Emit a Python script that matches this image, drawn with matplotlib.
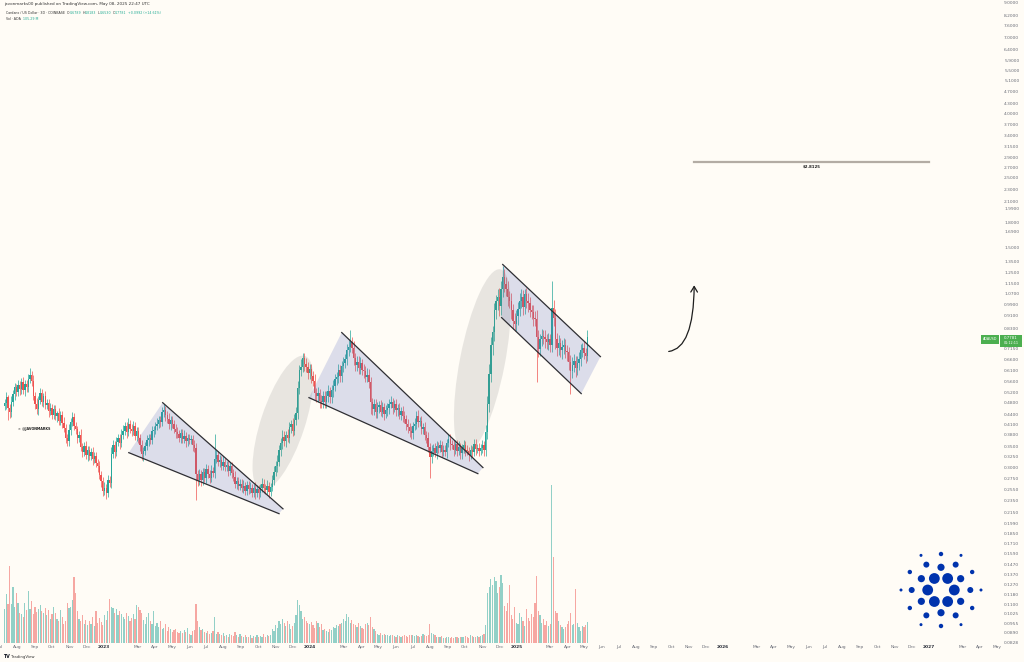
import numpy as np
import pandas as pd
import matplotlib
matplotlib.use("Agg")
import matplotlib.pyplot as plt
import matplotlib.dates as mdates
from matplotlib.patches import Polygon, Ellipse, Circle, FancyArrowPatch, Rectangle
from matplotlib.transforms import IdentityTransform
from matplotlib.ticker import NullLocator

# ---- data (ADA/USD, 3D candles) ----
start = "2022-07-09"
first_open = 0.470
closes = [
    0.480, 0.500, 0.462, 0.448, 0.485, 0.512, 0.540, 0.521, 0.548, 0.530,
    0.558, 0.528, 0.550, 0.538, 0.572, 0.590, 0.565, 0.505, 0.478, 0.458,
    0.492, 0.515, 0.484, 0.505, 0.472, 0.480, 0.452, 0.462, 0.440, 0.458,
    0.436, 0.445, 0.420, 0.438, 0.415, 0.400, 0.372, 0.362, 0.395, 0.418,
    0.432, 0.405, 0.398, 0.372, 0.380, 0.348, 0.336, 0.350, 0.328, 0.340,
    0.326, 0.334, 0.318, 0.326, 0.310, 0.302, 0.283, 0.270, 0.252, 0.258,
    0.248, 0.272, 0.268, 0.330, 0.352, 0.335, 0.360, 0.372, 0.358, 0.380,
    0.392, 0.405, 0.388, 0.412, 0.398, 0.392, 0.405, 0.378, 0.390, 0.370,
    0.352, 0.330, 0.338, 0.350, 0.365, 0.372, 0.366, 0.390, 0.394, 0.405,
    0.412, 0.425, 0.418, 0.448, 0.455, 0.438, 0.428, 0.410, 0.425, 0.412,
    0.398, 0.388, 0.382, 0.372, 0.385, 0.368, 0.378, 0.362, 0.372, 0.366,
    0.368, 0.352, 0.345, 0.285, 0.272, 0.285, 0.272, 0.290, 0.278, 0.295,
    0.286, 0.278, 0.292, 0.288, 0.318, 0.328, 0.312, 0.315, 0.302, 0.312,
    0.300, 0.304, 0.292, 0.302, 0.288, 0.280, 0.266, 0.270, 0.262, 0.266,
    0.258, 0.262, 0.252, 0.264, 0.256, 0.258, 0.249, 0.258, 0.248, 0.256,
    0.248, 0.258, 0.266, 0.258, 0.254, 0.262, 0.250, 0.260, 0.272, 0.290,
    0.302, 0.312, 0.340, 0.358, 0.375, 0.362, 0.380, 0.372, 0.402, 0.412,
    0.392, 0.425, 0.445, 0.535, 0.610, 0.625, 0.665, 0.640, 0.625, 0.598,
    0.615, 0.585, 0.565, 0.515, 0.505, 0.518, 0.488, 0.482, 0.505, 0.482,
    0.505, 0.525, 0.500, 0.528, 0.545, 0.570, 0.580, 0.610, 0.585, 0.628,
    0.645, 0.660, 0.705, 0.725, 0.750, 0.720, 0.665, 0.632, 0.650, 0.618,
    0.645, 0.612, 0.605, 0.582, 0.590, 0.558, 0.482, 0.458, 0.475, 0.448,
    0.465, 0.472, 0.450, 0.465, 0.442, 0.455, 0.462, 0.478, 0.485, 0.462,
    0.475, 0.455, 0.462, 0.440, 0.452, 0.435, 0.428, 0.410, 0.402, 0.390,
    0.385, 0.405, 0.412, 0.435, 0.418, 0.420, 0.398, 0.402, 0.380, 0.372,
    0.348, 0.322, 0.338, 0.345, 0.332, 0.350, 0.346, 0.352, 0.336, 0.340,
    0.335, 0.358, 0.368, 0.355, 0.352, 0.340, 0.356, 0.338, 0.348, 0.332,
    0.344, 0.352, 0.340, 0.338, 0.328, 0.340, 0.336, 0.355, 0.342, 0.345,
    0.338, 0.346, 0.352, 0.340, 0.388, 0.478, 0.595, 0.735, 0.805, 0.945,
    1.010, 1.040, 0.975, 1.110, 1.205, 1.150, 1.110, 1.040, 1.010, 0.945,
    0.875, 0.858, 0.905, 0.955, 1.010, 1.045, 0.970, 1.065, 1.010, 0.995,
    0.945, 0.935, 0.895, 0.885, 0.780, 0.715, 0.765, 0.785, 0.778, 0.765,
    0.752, 0.765, 0.735, 0.960, 0.895, 0.765, 0.718, 0.745, 0.705, 0.725,
    0.735, 0.700, 0.695, 0.648, 0.605, 0.635, 0.652, 0.618, 0.645, 0.662,
    0.705, 0.718, 0.692, 0.6789, 0.7781,
]
# upper / lower wick beyond the body, in percent
wick_up = [
    3, 4, 2, 3, 4, 3, 3, 2, 4, 3,  3, 4, 3, 3, 4, 5, 3, 4, 3, 4,
    3, 4, 3, 2, 4, 3, 3, 4, 3, 3,  3, 2, 4, 3, 3, 4, 3, 3, 4, 3,
    4, 3, 3, 2, 3, 4, 3, 3, 4, 3,  3, 3, 4, 3, 3, 3, 4, 3, 3, 4,
    3, 4, 3, 5, 4, 3, 4, 3, 3, 4,  4, 3, 3, 4, 3, 3, 4, 3, 3, 3,
    3, 4, 3, 3, 4, 3, 3, 4, 3, 3,  4, 3, 3, 4, 5, 3, 3, 4, 3, 3,
    3, 3, 4, 3, 3, 3, 4, 3, 3, 3,  3, 3, 4, 4, 3, 4, 3, 3, 3, 4,
    3, 3, 4, 3, 20, 4, 3, 4, 3, 4,  3, 3, 4, 3, 3, 3, 4, 3, 3, 3,
    3, 4, 3, 3, 3, 4, 3, 3, 4, 3,  3, 3, 4, 3, 3, 4, 3, 3, 4, 4,
    4, 5, 4, 4, 5, 4, 3, 4, 4, 3,  4, 4, 5, 5, 4, 6, 4, 4, 4, 4,
    4, 4, 4, 5, 4, 4, 3, 4, 4, 4,  4, 4, 3, 4, 4, 4, 4, 5, 4, 4,
    4, 4, 5, 5, 9, 4, 5, 4, 4, 4,  4, 3, 4, 4, 5, 4, 4, 3, 4, 4,
    4, 3, 4, 4, 3, 4, 4, 3, 4, 3,  3, 4, 3, 4, 3, 4, 4, 3, 4, 3,
    4, 3, 4, 4, 5, 3, 4, 3, 4, 3,  4, 3, 4, 3, 4, 4, 3, 4, 3, 4,
    4, 3, 4, 4, 3, 4, 3, 3, 4, 3,  3, 4, 3, 4, 3, 4, 3, 4, 4, 3,
    4, 3, 4, 3, 5, 6, 7, 6, 5, 6,  5, 6, 7, 6, 9, 6, 5, 6, 5, 6,
    5, 6, 5, 5, 6, 6, 5, 4, 5, 6,  5, 4, 5, 5, 7, 5, 4, 5, 4, 5,
    4, 5, 4, 22, 6, 7, 5, 6, 4, 5,  5, 4, 5, 4, 5, 6, 5, 4, 5, 5,
    5, 4, 5, 4, 5.2,
]
wick_dn = [
    3, 4, 8, 4, 3, 3, 4, 3, 3, 4,  3, 3, 4, 3, 3, 3, 4, 3, 4, 3,
    4, 3, 3, 4, 3, 3, 4, 3, 3, 3,  3, 4, 3, 3, 4, 3, 4, 3, 3, 4,
    3, 3, 4, 4, 3, 3, 4, 3, 3, 4,  3, 3, 4, 3, 3, 4, 3, 4, 4, 3,
    4, 3, 3, 4, 3, 4, 3, 3, 4, 3,  3, 3, 4, 3, 3, 4, 3, 3, 4, 3,
    4, 4, 5, 3, 3, 4, 3, 3, 4, 3,  3, 3, 4, 3, 3, 4, 3, 3, 4, 3,
    3, 4, 3, 3, 4, 3, 3, 4, 3, 3,  3, 4, 3, 17, 4, 3, 4, 3, 3, 4,
    3, 4, 3, 3, 4, 3, 3, 4, 3, 3,  3, 3, 4, 3, 4, 3, 3, 4, 3, 3,
    3, 4, 3, 3, 4, 3, 3, 3, 4, 3,  4, 3, 3, 4, 3, 3, 4, 3, 3, 3,
    3, 4, 3, 4, 4, 3, 4, 3, 4, 4,  4, 3, 4, 4, 4, 4, 4, 5, 4, 4,
    4, 5, 4, 5, 4, 4, 5, 4, 4, 4,  4, 4, 4, 4, 5, 4, 4, 4, 4, 4,
    4, 4, 4, 4, 4, 4, 5, 4, 4, 4,  4, 4, 5, 4, 4, 4, 8, 4, 4, 4,
    4, 4, 3, 4, 4, 3, 4, 4, 3, 4,  3, 4, 4, 3, 4, 4, 3, 4, 4, 4,
    4, 4, 3, 4, 4, 3, 4, 4, 4, 4,  4, 14, 4, 4, 3, 4, 4, 3, 4, 3,
    3, 4, 3, 4, 3, 4, 3, 4, 3, 4,  4, 3, 4, 3, 4, 3, 4, 3, 4, 3,
    4, 3, 4, 4, 4, 5, 6, 6, 7, 6,  6, 6, 7, 6, 6, 6, 5, 6, 5, 6,
    6, 5, 5, 6, 5, 5, 6, 5, 5, 6,  5, 5, 6, 5, 28, 6, 5, 5, 5, 6,
    5, 6, 5, 5, 6, 7, 6, 5, 5, 6,  5, 5, 6, 6, 15, 5, 5, 6, 5, 5,
    5, 5, 4, 5, 3.8,
]
# volume, millions of ADA
volume = [
    170, 245, 195, 385, 195, 280, 180, 250, 200, 150,
    145, 130, 200, 165, 260, 170, 210, 145, 180, 155,
    170, 190, 160, 150, 175, 140, 165, 120, 145, 180,
    150, 120, 110, 165, 130, 95, 110, 200, 175, 180,
    215, 330, 250, 160, 120, 110, 140, 95, 115, 90,
    110, 95, 130, 85, 160, 100, 125, 105, 90, 140,
    115, 160, 220, 180, 175, 150, 170, 140, 160, 145,
    130, 120, 150, 135, 110, 125, 145, 120, 190, 180,
    165, 150, 115, 95, 130, 150, 110, 95, 160, 85,
    100, 80, 110, 70, 75, 95, 60, 80, 70, 55,
    65, 70, 55, 50, 60, 48, 65, 55, 75, 45,
    40, 60, 65, 195, 110, 80, 65, 70, 55, 50,
    60, 45, 50, 60, 130, 45, 55, 45, 40, 50,
    35, 40, 30, 45, 40, 35, 55, 40, 30, 45,
    35, 28, 40, 32, 30, 38, 26, 34, 30, 40,
    30, 35, 28, 45, 30, 40, 34, 38, 70, 60,
    90, 75, 110, 95, 120, 100, 85, 110, 95, 70,
    85, 100, 140, 215, 190, 160, 120, 130, 110, 100,
    95, 105, 90, 75, 110, 100, 80, 95, 65, 70,
    60, 55, 70, 65, 80, 75, 90, 85, 95, 100,
    120, 110, 145, 130, 100, 115, 95, 90, 80, 100,
    85, 75, 70, 95, 100, 90, 130, 80, 70, 60,
    45, 40, 50, 38, 45, 40, 42, 35, 40, 38,
    35, 32, 40, 34, 30, 36, 38, 33, 30, 40,
    42, 38, 35, 40, 36, 30, 34, 45, 38, 35,
    40, 95, 50, 45, 40, 32, 28, 30, 34, 26,
    25, 30, 28, 24, 30, 26, 32, 28, 25, 30,
    32, 28, 35, 30, 26, 38, 34, 30, 28, 36,
    30, 34, 38, 45, 90, 250, 280, 320, 290, 330,
    310, 250, 280, 340, 300, 185, 160, 200, 290, 140,
    120, 180, 100, 95, 150, 130, 110, 85, 170, 125,
    110, 145, 130, 200, 335, 160, 140, 100, 120, 90,
    110, 85, 95, 790, 430, 160, 150, 110, 90, 80,
    70, 80, 95, 110, 150, 90, 95, 270, 100, 80,
    60, 85, 80, 90, 105.29,
]
price_ticks = [9.0, 8.2, 7.6, 7.0, 6.4, 5.9, 5.5, 5.1, 4.7, 4.3, 4.0, 3.7, 3.4,
               3.15, 2.9, 2.7, 2.5, 2.3, 2.1, 1.99, 1.8, 1.69, 1.5, 1.35, 1.25,
               1.15, 1.07, 0.99, 0.91, 0.83, 0.715, 0.66, 0.61, 0.56, 0.52, 0.48,
               0.44, 0.41, 0.38, 0.35, 0.325, 0.30, 0.275, 0.255, 0.235, 0.215,
               0.199, 0.185, 0.171, 0.159, 0.147, 0.137, 0.127, 0.118, 0.110,
               0.1025, 0.0955, 0.0890, 0.0828]
target_price = 2.8125

# drawings: (date, price) anchors
wedge_2023 = dict(upper=[("2023-04-15", 0.481), ("2023-11-14", 0.221)],
                  lower=[("2023-02-14", 0.3335), ("2023-11-07", 0.2133)])
wedge_2024 = dict(upper=[("2024-02-26", 0.804), ("2024-11-02", 0.299)],
                  lower=[("2023-12-30", 0.499), ("2024-10-24", 0.286)])
channel_2025 = dict(upper=[("2024-12-07", 1.324), ("2025-05-29", 0.674)],
                    lower=[("2024-12-05", 0.897), ("2025-04-25", 0.514)])

# ---- style ----
W, H = 1024, 662
BG = "#fffcf6"
UP, DOWN = "#26a69a", "#ef5350"
TXT = "#6b6e78"
plt.rcParams["font.family"] = ["DejaVu Sans"]


def d(s):
    return mdates.date2num(np.datetime64(s))


n = min(len(closes), len(wick_up), len(wick_dn), len(volume))
c = np.array(closes[:n])
o = np.r_[first_open, c[:-1]]
hi = np.maximum(o, c) * (1 + np.array(wick_up[:n]) / 100)
lo = np.minimum(o, c) * (1 - np.array(wick_dn[:n]) / 100)
vol = np.array(volume[:n])
x = mdates.date2num(pd.date_range(start, periods=n, freq="3D").to_pydatetime())
col = np.where(c >= o, UP, DOWN)

fig = plt.figure(figsize=(W / 100, H / 100), dpi=100)
fig.patch.set_facecolor(BG)
rect = [0, 19 / H, 1000 / W, 643 / H]
axv = fig.add_axes(rect)
ax = fig.add_axes(rect, sharex=axv)
axv.set_facecolor(BG)
ax.patch.set_visible(False)

# volume
axv.bar(x, vol, width=2.1, color=col, alpha=0.5, linewidth=0)
axv.set_ylim(0, vol.max() * 643 / 158)
axv.axis("off")

# candles
ax.set_yscale("log")
ax.set_xlim(d("2023-01-01") - 178.2, d("2023-01-01") + 1586.4)
ax.set_ylim(0.0827, 9.19)
ax.vlines(x, lo, hi, colors=col, lw=0.5, zorder=2)
ax.bar(x, np.abs(c - o), bottom=np.minimum(o, c), width=2.4, color=col,
       linewidth=0, zorder=3)

# wedges / channel
for shape in (wedge_2023, wedge_2024, channel_2025):
    (ua, ub), (la, lb) = shape["upper"], shape["lower"]
    poly = [(d(la[0]), la[1]), (d(ua[0]), ua[1]), (d(ub[0]), ub[1]), (d(lb[0]), lb[1])]
    ax.add_patch(Polygon(poly, closed=True, facecolor="#5c6bc0", alpha=0.21,
                         edgecolor="none", zorder=5))
    for a, b in (shape["upper"], shape["lower"]):
        ax.plot([d(a[0]), d(b[0])], [a[1], b[1]], color="#2e2e33", lw=0.9, zorder=6)

# highlight ellipses around the impulsive moves (pixel sizes)
for centre, w_px, h_px, ang in ((("2023-11-18", 0.4146), 141, 44, 71.8),
                                (("2024-11-04", 0.650), 188, 45, 79.0)):
    cx, cy = ax.transData.transform((d(centre[0]), centre[1]))
    ax.add_patch(Ellipse((cx, cy), w_px, h_px, angle=ang, transform=IdentityTransform(),
                         facecolor="#787878", alpha=0.17, edgecolor="none", zorder=5))

# projected move
ax.add_patch(FancyArrowPatch((d("2025-09-22"), 0.699), (d("2025-11-11"), 1.16),
                             connectionstyle="angle3,angleA=0,angleB=90",
                             arrowstyle="->,head_length=0.5,head_width=0.3",
                             mutation_scale=8, color="#1e1e1e", lw=0.9, zorder=6))
ax.plot([d("2025-11-10"), d("2027-01-01")], [target_price, target_price],
        color="#b3aca4", lw=1.6, zorder=6)
ax.annotate(r"\$" + f"{target_price:.4f}", (d("2026-06-07"), target_price),
            xytext=(0, -2.2), textcoords="offset points", ha="center", va="top",
            fontsize=2.9, fontweight="bold", color="#222222")

# axes
for s in ax.spines.values():
    s.set_visible(False)
ax.yaxis.tick_right()
ax.yaxis.set_minor_locator(NullLocator())
ax.set_yticks(price_ticks)
ax.set_yticklabels([f"{p:.4f}" for p in price_ticks])
ax.tick_params(axis="y", length=0, pad=3, labelsize=3.2, labelcolor=TXT)

months = [m for m in pd.date_range("2022-07-01", "2027-05-01", freq="MS") if m.month != 2]
ax.set_xticks([mdates.date2num(m.to_pydatetime()) for m in months])
ax.set_xticklabels([str(m.year) if m.month == 1 else m.strftime("%b") for m in months])
ax.tick_params(axis="x", length=0, pad=1.5, labelsize=3.2, labelcolor=TXT)
for m, lab in zip(months, ax.get_xticklabels()):
    if m.month == 1:
        lab.set_fontweight("bold")
        lab.set_color("#2a2e39")

# header / legend
DARK, VAL = "#333333", "#22ab94"
fig.text(4 / W, 1 - 4 / H, "javonmarks00 published on TradingView.com, May 08, 2025 22:47 UTC",
         fontsize=3.0, color=DARK, va="center")
renderer = fig.canvas.get_renderer()


def put_row(x0, y, pieces, size=2.3):
    xp = x0
    for s, colr, gap in pieces:
        t = fig.text(xp / W, 1 - y / H, s, fontsize=size, color=colr, va="center")
        xp += t.get_window_extent(renderer).width + gap


put_row(6, 13, [("Cardano / US Dollar · 3D · COINBASE", DARK, 1.8),
                ("O", DARK, 0.3), ("0.6789", VAL, 1.2), ("H", DARK, 0.3), ("0.8183", VAL, 1.2),
                ("L", DARK, 0.3), ("0.6530", VAL, 1.2), ("C", DARK, 0.3), ("0.7781", VAL, 1.2),
                ("+0.0992 (+14.61%)", VAL, 0)])
put_row(6, 18.5, [("Vol · ADA", DARK, 1.8), ("105.29 M", VAL, 0)])

fig.text(18 / W, 1 - 429 / H, "✕ @JAVONMARKS", fontsize=2.4, fontweight="bold",
         color="#222222", va="center")
fig.text(3 / W, 1 - 657 / H, "TV", fontsize=3.4, fontweight="bold", color="#131722", va="center")
fig.text(11 / W, 1 - 657 / H, "TradingView", fontsize=2.8, color=DARK, va="center")

# last price label
GREEN = "#4caf50"
fig.add_artist(Rectangle((981, H - 344), 18, 9, transform=IdentityTransform(),
                         facecolor=GREEN, edgecolor="none"))
fig.add_artist(Rectangle((1000, H - 347), 22, 12, transform=IdentityTransform(),
                         facecolor=GREEN, edgecolor="none"))
fig.text(990 / W, 1 - 339.5 / H, "ADAUSD", fontsize=2.4, color="white", ha="center", va="center")
fig.text(1011 / W, 1 - 338 / H, "0.7781", fontsize=2.8, color="white", ha="center", va="center")
fig.text(1011 / W, 1 - 343.5 / H, "01:12:11", fontsize=2.4, color="white", ha="center", va="center")

# Cardano logo
lx, ly = 941, H - 590
for r_ring, r_dot, a0 in ((13.3, 5.4, 0), (22.7, 3.6, 30), (29.3, 3.0, 0),
                          (36.0, 2.2, 30), (40.0, 1.5, 0)):
    for k in range(6):
        a = np.deg2rad(a0 + 60 * k)
        fig.add_artist(Circle((lx + r_ring * np.cos(a), ly + r_ring * np.sin(a)), r_dot,
                              transform=IdentityTransform(), facecolor="#0033ad",
                              edgecolor="none"))

fig.savefig("out.png", dpi=100, facecolor=BG)
